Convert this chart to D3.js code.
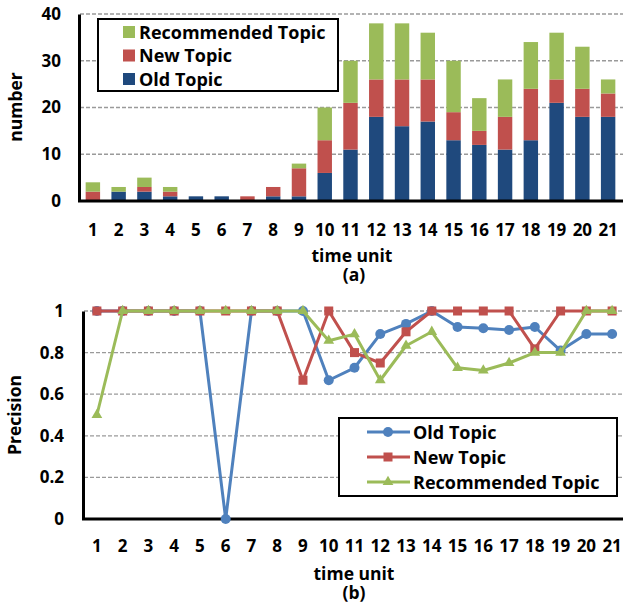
<!DOCTYPE html>
<html>
<head>
<meta charset="utf-8">
<script src="https://cdn.jsdelivr.net/npm/d3@7"></script>
<style>
  body { margin: 0; background: #fff; }
  svg { font-family: "Open Sans", Lato, sans-serif; font-weight: 700; }
</style>
</head>
<body>
<div id="chart"></div>
<script>
// data
const units = d3.range(1, 22).map(String);

const oldCount = [0, 2, 2, 1, 1, 1, 0, 1, 1, 6, 11, 18, 16, 17, 13, 12, 11, 13, 21, 18, 18];
const newCount = [2, 0, 1, 1, 0, 0, 1, 2, 6, 7, 10, 8, 10, 9, 6, 3, 7, 11, 5, 6, 5];
const recCount = [2, 1, 2, 1, 0, 0, 0, 0, 1, 7, 9, 12, 12, 10, 11, 7, 8, 10, 10, 9, 3];

const oldPrec = [1, 1, 1, 1, 1, 0, 1, 1, 1, 0.667, 0.727, 0.889, 0.938, 1, 0.923, 0.917, 0.909, 0.923, 0.81, 0.889, 0.889];
const newPrec = [1, 1, 1, 1, 1, 1, 1, 1, 0.667, 1, 0.8, 0.75, 0.9, 1, 1, 1, 1, 0.818, 1, 1, 1];
const recPrec = [0.5, 1, 1, 1, 1, 1, 1, 1, 1, 0.857, 0.889, 0.667, 0.833, 0.9, 0.727, 0.714, 0.75, 0.8, 0.8, 1, 1];

const countTicks = [0, 10, 20, 30, 40];
const precTicks = [0, 0.2, 0.4, 0.6, 0.8, 1];

const barSeries = [
  { name: "Old Topic", values: oldCount, color: "#1f497d" },
  { name: "New Topic", values: newCount, color: "#c0504d" },
  { name: "Recommended Topic", values: recCount, color: "#9bbb59" }
];
const lineSeries = [
  { name: "Old Topic", values: oldPrec, color: "#4f81bd", marker: "circle" },
  { name: "New Topic", values: newPrec, color: "#c0504d", marker: "square" },
  { name: "Recommended Topic", values: recPrec, color: "#9bbb59", marker: "triangle" }
];

const W = 623, H = 605;
const tickFont = 17, titleFont = 17.5, legendFont = 18;
const svg = d3.select("#chart").append("svg").attr("width", W).attr("height", H);

function grid(g, y, ticks, x0, x1) {
  g.selectAll("line.grid").data(ticks.filter(t => t > 0)).join("line")
    .attr("class", "grid")
    .attr("x1", x0).attr("x2", x1)
    .attr("y1", d => y(d)).attr("y2", d => y(d))
    .attr("stroke", "#9a9a9a").attr("stroke-width", 1.3)
    .attr("stroke-dasharray", "4,2");
}

function styleTicks(g) {
  g.selectAll("text").attr("font-size", tickFont).attr("fill", "#000").attr("font-family", "Open Sans");
}

// ---------- (a) stacked bars ----------
const xa = d3.scaleBand().domain(units).range([80, 621]).paddingInner(0.44).paddingOuter(0.22);
const ya = d3.scaleLinear().domain([0, 40]).range([201, 14]);
const ga = svg.append("g");
grid(ga, ya, countTicks, 80, W);

const stackData = units.map((u, i) => ({ unit: u, old: oldCount[i], new: newCount[i], rec: recCount[i] }));
const stacked = d3.stack().keys(["old", "new", "rec"])(stackData);
ga.selectAll("g.layer").data(stacked).join("g")
  .attr("class", "layer")
  .attr("fill", (d, i) => barSeries[i].color)
  .selectAll("rect").data(d => d).join("rect")
  .attr("x", d => xa(d.data.unit))
  .attr("width", xa.bandwidth())
  .attr("y", d => ya(d[1]))
  .attr("height", d => ya(d[0]) - ya(d[1]));

// axes
ga.append("g").attr("transform", "translate(79,0)")
  .call(d3.axisLeft(ya).tickValues(countTicks).tickSize(0).tickPadding(18))
  .call(g => g.select(".domain").attr("stroke", "#000").attr("stroke-width", 3))
  .call(styleTicks);
ga.append("g").attr("transform", "translate(0,201)")
  .call(d3.axisBottom(xa).tickSize(0).tickPadding(23))
  .call(g => g.select(".domain").attr("d", "M78,0H" + W).attr("stroke", "#000").attr("stroke-width", 3))
  .call(styleTicks);

ga.append("text").attr("x", 352).attr("y", 262).attr("text-anchor", "middle").attr("font-size", titleFont).text("time unit");
ga.append("text").attr("x", 354).attr("y", 281).attr("text-anchor", "middle").attr("font-size", titleFont).text("(a)");
ga.append("text").attr("transform", "translate(22,107) rotate(-90)").attr("text-anchor", "middle").attr("font-size", titleFont).text("number");

// legend (a)
const lga = ga.append("g");
lga.append("rect").attr("x", 98).attr("y", 19).attr("width", 240).attr("height", 72)
  .attr("fill", "#fff").attr("stroke", "#000").attr("stroke-width", 2);
const legA = barSeries.slice().reverse();
lga.selectAll("g.item").data(legA).join("g").attr("class", "item")
  .attr("transform", (d, i) => `translate(123,${32 + i * 23.5})`)
  .call(g => g.append("rect").attr("x", 0).attr("y", -6).attr("width", 12).attr("height", 12).attr("fill", d => d.color))
  .call(g => g.append("text").attr("x", 16).attr("y", 6.5).attr("font-size", legendFont).text(d => d.name));

// ---------- (b) precision lines ----------
const xb = d3.scaleBand().domain(units).range([84, 625]);
const yb = d3.scaleLinear().domain([0, 1]).range([519, 311]);
const gb = svg.append("g");
grid(gb, yb, precTicks, 84, W);

gb.append("g").attr("transform", "translate(83,0)")
  .call(d3.axisLeft(yb).tickValues(precTicks).tickFormat(d3.format("")).tickSize(0).tickPadding(19))
  .call(g => g.select(".domain").attr("stroke", "#000").attr("stroke-width", 3))
  .call(styleTicks);
gb.append("g").attr("transform", "translate(0,519)")
  .call(d3.axisBottom(xb).tickSize(0).tickPadding(21))
  .call(g => g.select(".domain").attr("d", "M82,0H" + W).attr("stroke", "#000").attr("stroke-width", 3))
  .call(styleTicks);

gb.append("text").attr("x", 354).attr("y", 580).attr("text-anchor", "middle").attr("font-size", titleFont).text("time unit");
gb.append("text").attr("x", 354).attr("y", 599).attr("text-anchor", "middle").attr("font-size", titleFont).text("(b)");
gb.append("text").attr("transform", "translate(21,415) rotate(-90)").attr("text-anchor", "middle").attr("font-size", titleFont).text("Precision");

const cx = i => xb(units[i]) + xb.bandwidth() / 2;
const line = d3.line().x((d, i) => cx(i)).y(d => yb(d));

function drawMarker(sel, type, color) {
  if (type === "circle") {
    sel.append("circle").attr("r", 5).attr("fill", color);
  } else if (type === "square") {
    sel.append("rect").attr("x", -4.5).attr("y", -4.5).attr("width", 9).attr("height", 9).attr("fill", color);
  } else {
    sel.append("path").attr("d", d3.symbol(d3.symbolTriangle, 50)()).attr("fill", color);
  }
}

lineSeries.forEach(s => {
  gb.append("path").datum(s.values)
    .attr("d", line).attr("fill", "none")
    .attr("stroke", s.color).attr("stroke-width", 3).attr("stroke-linejoin", "round");
  gb.selectAll(null).data(s.values).join("g")
    .attr("transform", (d, i) => `translate(${cx(i)},${yb(d)})`)
    .each(function () { drawMarker(d3.select(this), s.marker, s.color); });
});

// legend (b)
const lgb = gb.append("g");
lgb.append("rect").attr("x", 339).attr("y", 418).attr("width", 278).attr("height", 78)
  .attr("fill", "#fff").attr("stroke", "#000").attr("stroke-width", 2);
lineSeries.forEach((s, i) => {
  const row = lgb.append("g").attr("transform", `translate(0,${432 + i * 25})`);
  row.append("line").attr("x1", 367).attr("x2", 410).attr("stroke", s.color).attr("stroke-width", 3);
  drawMarker(row.append("g").attr("transform", "translate(388,0)"), s.marker, s.color);
  row.append("text").attr("x", 413).attr("y", 6.5).attr("font-size", legendFont).text(s.name);
});
</script>
</body>
</html>
